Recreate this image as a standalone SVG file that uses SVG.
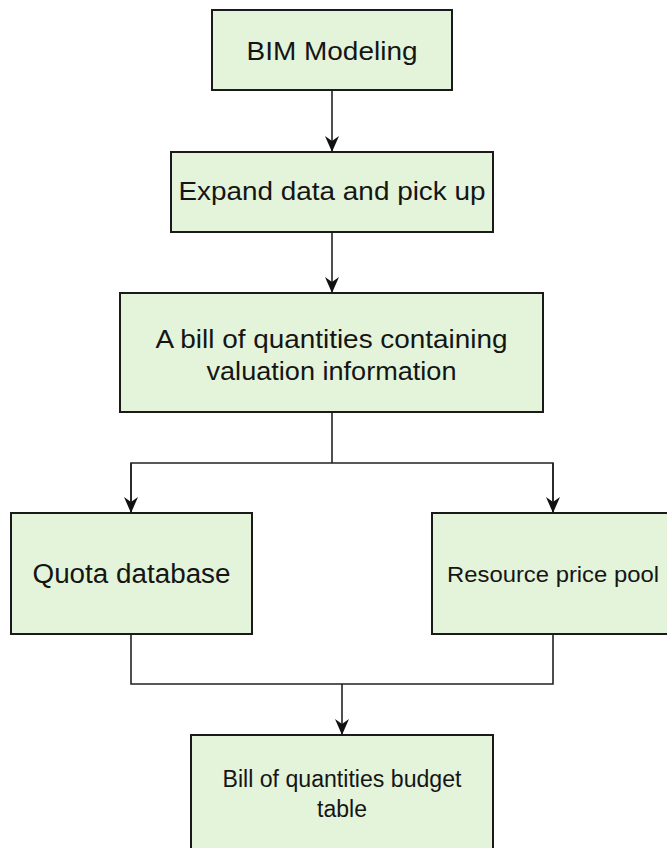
<svg xmlns="http://www.w3.org/2000/svg" width="667" height="848" viewBox="0 0 667 848">
  <style>
    .box { fill: #e3f4da; stroke: #1a1a1a; stroke-width: 2; }
    .lbl { font-family: "Liberation Sans", Arial, sans-serif; fill: #151515; text-anchor: middle; }
    .con { fill: none; stroke: #222; stroke-width: 1.6; }
  </style>
  <defs>
    <marker id="arr" viewBox="0 0 16 14" refX="16" refY="7" markerWidth="16" markerHeight="14" markerUnits="userSpaceOnUse" orient="auto">
      <path d="M0,0 L16,7 L0,14 L5,7 Z" fill="#111"/>
    </marker>
  </defs>
  <rect width="667" height="848" fill="#ffffff"/>

  <g id="connectors">
    <path class="con" d="M332,90 V152" marker-end="url(#arr)"/>
    <path class="con" d="M332,232 V293" marker-end="url(#arr)"/>
    <path class="con" d="M332,412 V463"/>
    <path class="con" d="M131,513 V463 H553 V513"/>
    <path class="con" d="M131,463 V513" marker-end="url(#arr)"/>
    <path class="con" d="M553,463 V513" marker-end="url(#arr)"/>
    <path class="con" d="M131,634 V684 H553 V634"/>
    <path class="con" d="M342,684 V735" marker-end="url(#arr)"/>
  </g>

  <g id="node-bim">
    <rect class="box" x="212" y="10" width="240" height="80"/>
    <text class="lbl" x="332" y="60" font-size="26" textLength="171" lengthAdjust="spacingAndGlyphs">BIM Modeling</text>
  </g>

  <g id="node-expand">
    <rect class="box" x="171" y="152" width="322" height="80"/>
    <text class="lbl" x="332" y="200" font-size="26" textLength="307" lengthAdjust="spacingAndGlyphs">Expand data and pick up</text>
  </g>

  <g id="node-bill">
    <rect class="box" x="120" y="293" width="423" height="119"/>
    <text class="lbl" x="331.5" y="348" font-size="26" textLength="352" lengthAdjust="spacingAndGlyphs">A bill of quantities containing</text>
    <text class="lbl" x="331.5" y="380" font-size="26" textLength="250" lengthAdjust="spacingAndGlyphs">valuation information</text>
  </g>

  <g id="node-quota">
    <rect class="box" x="11" y="513" width="241" height="121"/>
    <text class="lbl" x="131.5" y="583" font-size="27" textLength="198" lengthAdjust="spacingAndGlyphs">Quota database</text>
  </g>

  <g id="node-resource">
    <rect class="box" x="432" y="513" width="242" height="121"/>
    <text class="lbl" x="553" y="582" font-size="22" textLength="212" lengthAdjust="spacingAndGlyphs">Resource price pool</text>
  </g>

  <g id="node-budget">
    <rect class="box" x="191" y="735" width="302" height="121"/>
    <text class="lbl" x="342" y="787" font-size="23" textLength="239" lengthAdjust="spacingAndGlyphs">Bill of quantities budget</text>
    <text class="lbl" x="342" y="817" font-size="23">table</text>
  </g>
</svg>
